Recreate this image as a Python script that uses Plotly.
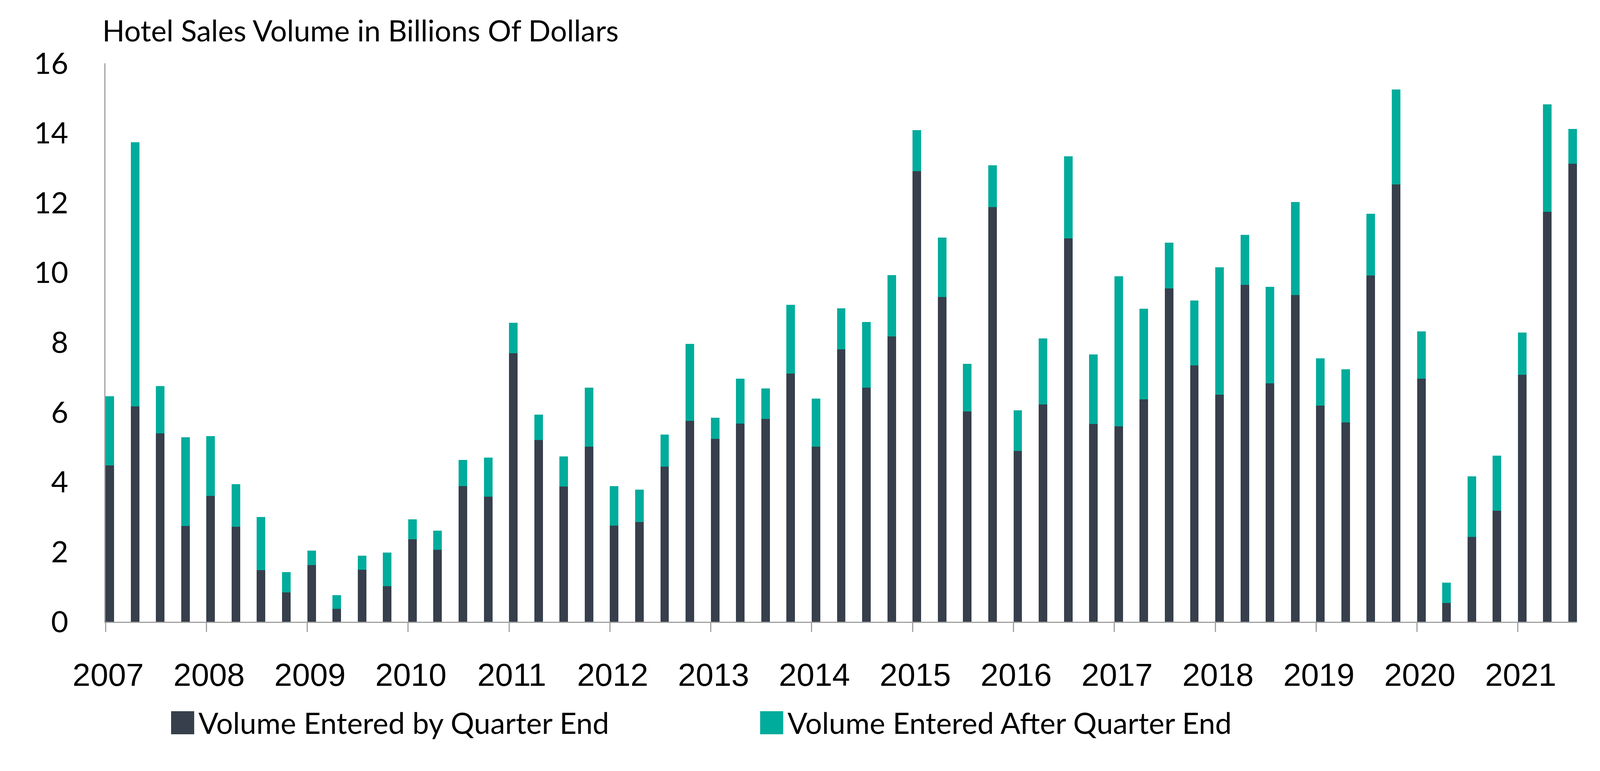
"""Hotel sales volume per quarter, stacked bars: entered by quarter end vs after."""
import plotly.graph_objects as go

# quarterly volume, billions USD, 2007Q1 .. 2021Q3
quarters = [f"{y}Q{q}" for y in range(2007, 2022) for q in range(1, 5)][:59]

by_quarter_end = [
    4.48, 6.17, 5.40, 2.74, 3.61, 2.72, 1.48, 0.84, 1.62, 0.37,
    1.49, 1.02, 2.36, 2.06, 3.89, 3.58, 7.69, 5.21, 3.87, 5.02,
    2.76, 2.86, 4.45, 5.75, 5.24, 5.68, 5.81, 7.11, 5.02, 7.80,
    6.71, 8.17, 12.91, 9.30, 6.02, 11.88, 4.89, 6.23, 10.98, 5.66,
    5.60, 6.37, 9.55, 7.34, 6.51, 9.65, 6.83, 9.36, 6.19, 5.71,
    9.92, 12.53, 6.96, 0.54, 2.43, 3.18, 7.08, 11.75, 13.12,
]
after_quarter_end = [
    1.98, 7.57, 1.35, 2.55, 1.71, 1.22, 1.52, 0.58, 0.42, 0.39,
    0.40, 0.96, 0.57, 0.55, 0.75, 1.12, 0.88, 0.72, 0.87, 1.69,
    1.12, 0.92, 0.91, 2.21, 0.60, 1.28, 0.88, 1.97, 1.37, 1.18,
    1.88, 1.76, 1.18, 1.71, 1.37, 1.20, 1.17, 1.89, 2.35, 2.00,
    4.30, 2.60, 1.31, 1.86, 3.65, 1.43, 2.77, 2.66, 1.36, 1.52,
    1.77, 2.72, 1.36, 0.58, 1.74, 1.58, 1.20, 3.08, 1.00,
]
year_ticks = list(range(2007, 2022))

DARK = "#363F4B"
TEAL = "#00AC9C"
GREY = "#A0A0A0"

# quarter start as fractional year on a linear axis
xq = [int(s[:4]) + (int(s[-1]) - 1) * 0.25 for s in quarters]
BW = 0.085

fig = go.Figure()
fig.add_trace(go.Bar(x=xq, y=by_quarter_end, name="Volume Entered by Quarter End",
                     marker=dict(color=DARK, line=dict(width=0)),
                     width=BW, offset=0, showlegend=False))
fig.add_trace(go.Bar(x=xq, y=after_quarter_end, name="Volume Entered After Quarter End",
                     marker=dict(color=TEAL, line=dict(width=0)),
                     width=BW, offset=0, showlegend=False))

# legend drawn by hand so the swatches are as big as the reference ones
legend_items = [("Volume Entered by Quarter End", DARK, 0.0446),
                ("Volume Entered After Quarter End", TEAL, 0.4449)]
shapes, annotations = [], []
for label, color, x0 in legend_items:
    shapes.append(dict(type="rect", xref="paper", yref="paper",
                       x0=x0, x1=x0 + 0.0157, y0=-0.2015, y1=-0.1603,
                       fillcolor=color, line=dict(width=0)))
    annotations.append(dict(text=label, xref="paper", yref="paper",
                            x=x0 + 0.0180, y=-0.1805, xanchor="left", yanchor="middle",
                            showarrow=False, font=dict(family="Lato", size=75.5, color="black")))

fig.update_layout(
    width=4188, height=1973,
    margin=dict(l=262, r=159, t=154, b=390),
    barmode="stack",
    plot_bgcolor="white", paper_bgcolor="white",
    title=dict(text="Hotel Sales Volume in Billions Of Dollars",
               x=254 / 4188, xanchor="left", xref="container",
               y=1 - 72 / 1973, yanchor="middle", yref="container",
               font=dict(family="Lato", size=75, color="black")),
    xaxis=dict(range=[2007, 2021.585], tickvals=year_ticks,
               ticktext=[str(y) for y in year_ticks],
               showgrid=False, zeroline=False,
               showline=True, linecolor=GREY, linewidth=3,
               ticks="outside", ticklen=23, tickwidth=3, tickcolor=GREY,
               ticklabelstandoff=40, ticklabelshift=7,
               tickfont=dict(family="Liberation Sans", size=82, color="black")),
    yaxis=dict(range=[0, 16], dtick=2, showgrid=False, zeroline=False,
               showline=True, linecolor=GREY, linewidth=3, ticks="",
               ticklabelstandoff=77,
               tickfont=dict(family="Lato", size=76, color="black")),
    shapes=shapes, annotations=annotations,
)

fig.write_html("out.html")
